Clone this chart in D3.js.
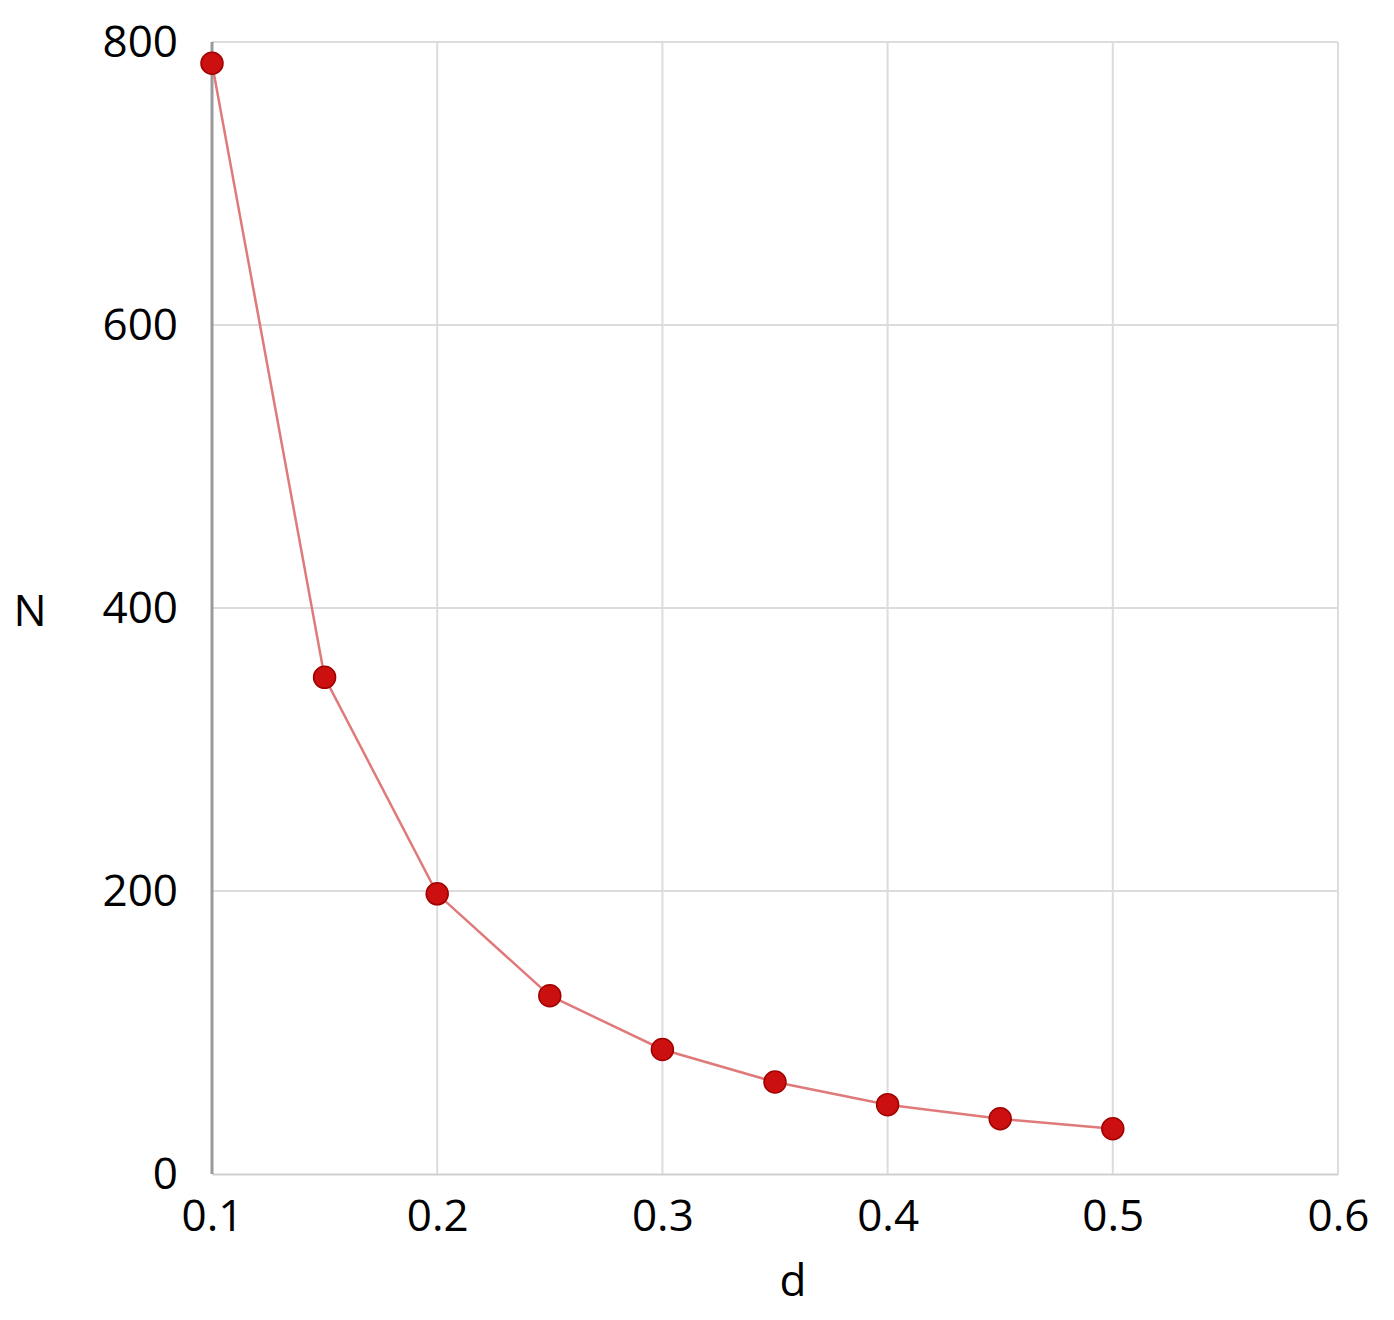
<!DOCTYPE html>
<html>
<head>
<meta charset="utf-8">
<script src="https://cdn.jsdelivr.net/npm/d3@7"></script>
<style>
  body { margin: 0; background: #fff; }
  .tick text { font-family: "Open Sans", sans-serif; fill: #000; }
</style>
</head>
<body>
<div class="chart"></div>
<script>
const width = 1394;
const height = 1320;
const margin = { top: 42, right: 56, bottom: 146, left: 212 };

// data
const dValues = [0.1, 0.15, 0.2, 0.25, 0.3, 0.35, 0.4, 0.45, 0.5];
const nValues = [785, 351, 198, 126, 88, 65, 49, 39, 32];
const xTicks = [0.1, 0.2, 0.3, 0.4, 0.5, 0.6];
const yTicks = [0, 200, 400, 600, 800];

const points = dValues.map((d, i) => ({ d: d, n: nValues[i] }));

const svg = d3.select('.chart').append('svg')
    .attr('width', width)
    .attr('height', height);

const x = d3.scaleLinear().domain([0.1, 0.6]).range([margin.left, width - margin.right]);
const y = d3.scaleLinear().domain([0, 800]).range([height - margin.bottom, margin.top]);

// gridlines
svg.append('g').selectAll('line').data(yTicks.filter(t => t > 0)).enter().append('line')
    .attr('x1', margin.left).attr('x2', width - margin.right)
    .attr('y1', d => y(d)).attr('y2', d => y(d))
    .attr('stroke', '#dcdcdc').attr('stroke-width', 2);
svg.append('g').selectAll('line').data(xTicks.filter(t => t > 0.1)).enter().append('line')
    .attr('x1', d => x(d)).attr('x2', d => x(d))
    .attr('y1', margin.top).attr('y2', height - margin.bottom)
    .attr('stroke', '#dcdcdc').attr('stroke-width', 2);

/* axes */
const xAxis = svg.append('g')
    .attr('transform', `translate(0, ${height - margin.bottom})`)
    .call(d3.axisBottom(x).tickValues(xTicks).tickFormat(d3.format('.1f')).tickSize(0).tickPadding(26));
xAxis.select('.domain').attr('stroke', '#d0d0d0').attr('stroke-width', 2);
xAxis.selectAll('text').attr('font-size', 44);

const yAxis = svg.append('g')
    .attr('transform', `translate(${margin.left}, 0)`)
    .call(d3.axisLeft(y).tickValues(yTicks).tickSize(0).tickPadding(34));
yAxis.select('.domain').remove();
yAxis.selectAll('text').attr('font-size', 44);
yAxis.append('line')
    .attr('x1', 0).attr('x2', 0)
    .attr('y1', y(800)).attr('y2', y(0))
    .attr('stroke', '#9a9a9a').attr('stroke-width', 3);

// axis titles
svg.append('text')
    .attr('x', 793)
    .attr('y', 1296)
    .attr('text-anchor', 'middle')
    .attr('font-family', 'Open Sans, sans-serif')
    .attr('font-size', 44)
    .text('d');
svg.append('text')
    .attr('x', 30)
    .attr('y', 626)
    .attr('text-anchor', 'middle')
    .attr('font-family', 'Open Sans, sans-serif')
    .attr('font-size', 44)
    .text('N');

// series line + markers
const line = d3.line().x(p => x(p.d)).y(p => y(p.n));
svg.append('path')
    .datum(points)
    .attr('d', line)
    .attr('fill', 'none')
    .attr('stroke', '#e07a7a')
    .attr('stroke-width', 2.5);

svg.append('g').selectAll('circle').data(points).enter().append('circle')
    .attr('cx', p => x(p.d))
    .attr('cy', p => y(p.n))
    .attr('r', 11)
    .attr('fill', '#cc1010')
    .attr('stroke', '#a00000')
    .attr('stroke-width', 1.5);
</script>
</body>
</html>
